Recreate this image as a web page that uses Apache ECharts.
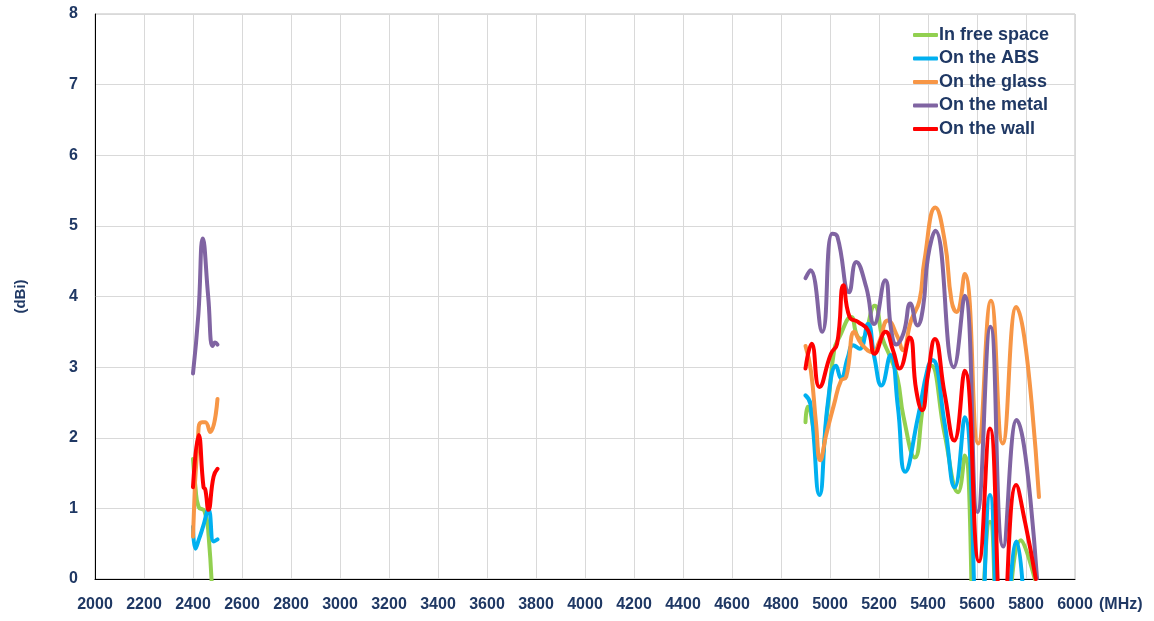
<!DOCTYPE html>
<html>
<head>
    <meta charset="utf-8" />
    <title>Gain vs frequency</title>
    <script src="https://cdn.jsdelivr.net/npm/echarts@6/dist/echarts.min.js"></script>
    <style>
        body { margin: 0; background: #fff; }
        #main { width: 1154px; height: 621px; }
    </style>
</head>
<body>
<div id="main"></div>
<script type="text/javascript">
    // series names (legend order)
    var names = ['In free space', 'On the ABS', 'On the glass', 'On the metal', 'On the wall'];
    var colors = ['#92D050', '#00B0F0', '#F79646', '#8064A2', '#FF0000'];

    // 2.4 GHz band: MHz / dBi
    var freeLowMHz = [2400, 2410, 2423, 2447, 2464, 2480];
    var freeLowDbi = [1.70, 1.30, 1.02, 0.96, 0.60, -0.40];
    var absLowMHz = [2400, 2410, 2423, 2441, 2463, 2485, 2500];
    var absLowDbi = [0.74, 0.43, 0.55, 0.74, 0.98, 0.53, 0.56];
    var glassLowMHz = [2400, 2423, 2437, 2450, 2470, 2500];
    var glassLowDbi = [0.60, 2.15, 2.22, 2.22, 2.08, 2.55];
    var metalLowMHz = [2400, 2422, 2440, 2462, 2480, 2490, 2500];
    var metalLowDbi = [2.91, 3.75, 4.82, 4.00, 3.30, 3.35, 3.32];
    var wallLowMHz = [2400, 2423, 2443, 2450, 2463, 2484, 2500];
    var wallLowDbi = [1.30, 2.04, 1.30, 1.27, 0.98, 1.45, 1.56];

    // 5 GHz band: MHz / dBi
    var freeHighMHz = [4900, 4909, 4940, 4960, 4990, 5017, 5038, 5086, 5110, 5128, 5182, 5215, 5245, 5275, 5300, 5346, 5380, 5414, 5468, 5523, 5550, 5600, 5653, 5700, 5780, 5836];
    var freeHighDbi = [2.22, 2.44, 2.00, 1.70, 2.40, 3.24, 3.42, 3.71, 3.45, 3.40, 3.87, 3.40, 3.15, 2.85, 2.30, 1.72, 2.45, 3.02, 2.05, 1.23, 1.75, -1.50, 0.81, -1.50, 0.55, 0.00];
    var absHighMHz = [4900, 4920, 4957, 4991, 5025, 5045, 5073, 5094, 5121, 5155, 5181, 5210, 5247, 5277, 5307, 5359, 5400, 5418, 5468, 5509, 5550, 5610, 5653, 5700, 5762, 5800];
    var absHighDbi = [2.60, 2.48, 1.19, 2.49, 3.02, 2.84, 3.14, 3.31, 3.26, 3.61, 3.14, 2.74, 3.17, 2.44, 1.52, 2.29, 3.00, 3.10, 2.20, 1.30, 2.29, -1.20, 1.19, -1.50, 0.53, -1.00];
    var glassHighMHz = [4900, 4922, 4943, 4960, 4985, 5017, 5045, 5066, 5100, 5128, 5175, 5200, 5236, 5277, 5297, 5331, 5365, 5385, 5430, 5468, 5496, 5516, 5550, 5605, 5657, 5705, 5760, 5853];
    var glassHighDbi = [3.30, 2.95, 2.20, 1.68, 2.05, 2.48, 2.81, 2.86, 3.50, 3.33, 3.21, 3.35, 3.66, 3.42, 3.24, 3.66, 3.94, 4.50, 5.26, 4.79, 3.94, 3.78, 4.32, 1.92, 3.94, 1.92, 3.85, 1.16];
    var metalHighMHz = [4900, 4920, 4968, 5009, 5030, 5078, 5107, 5148, 5180, 5225, 5250, 5270, 5300, 5328, 5357, 5380, 5400, 5430, 5505, 5550, 5602, 5655, 5707, 5762, 5845];
    var metalHighDbi = [4.26, 4.37, 3.50, 4.89, 4.85, 4.06, 4.49, 4.13, 3.61, 4.23, 3.52, 3.32, 3.48, 3.90, 3.59, 3.85, 4.56, 4.93, 3.00, 4.01, 0.95, 3.57, 0.46, 2.25, 0.01];
    var wallHighMHz = [4900, 4925, 4957, 5004, 5029, 5055, 5080, 5114, 5155, 5182, 5227, 5257, 5284, 5325, 5352, 5376, 5400, 5428, 5468, 5507, 5550, 5608, 5653, 5705, 5760, 5797, 5840];
    var wallHighDbi = [2.98, 3.33, 2.72, 3.19, 3.33, 4.16, 3.71, 3.64, 3.52, 3.19, 3.50, 3.24, 2.98, 3.42, 2.67, 2.39, 2.90, 3.40, 2.62, 1.96, 2.95, 0.25, 2.13, -0.80, 1.33, 0.79, 0.00];

    var xTicks = { min: 2000, max: 6000, step: 200 };
    var yTicks = { min: 0, max: 8, step: 1 };

    function pairs(mhz, dbi) {
        var out = [];
        for (var i = 0; i < mhz.length; i++) out.push([mhz[i], dbi[i]]);
        return out;
    }

    function band(lowM, lowD, highM, highD) {
        // null point breaks the line between the two bands
        return pairs(lowM, lowD).concat([[3700, null]], pairs(highM, highD));
    }

    var seriesData = [
        band(freeLowMHz, freeLowDbi, freeHighMHz, freeHighDbi),
        band(absLowMHz, absLowDbi, absHighMHz, absHighDbi),
        band(glassLowMHz, glassLowDbi, glassHighMHz, glassHighDbi),
        band(metalLowMHz, metalLowDbi, metalHighMHz, metalHighDbi),
        band(wallLowMHz, wallLowDbi, wallHighMHz, wallHighDbi)
    ];

    var textColor = '#1F3864';
    var font = '"Liberation Sans", Arial, sans-serif';

    var series = names.map(function (n, i) {
        return {
            name: n,
            type: 'line',
            data: seriesData[i],
            smooth: 0.5,
            showSymbol: false,
            symbol: 'none',
            connectNulls: false,
            clip: true,
            lineStyle: { width: 4, color: colors[i], cap: 'round', join: 'round' },
            itemStyle: { color: colors[i] },
            z: 2 + i
        };
    });

    var myChart = echarts.init(document.getElementById('main'));
    var option = {
        animation: false,
        backgroundColor: '#fff',
        grid: {
            left: 95, right: 79, top: 14, bottom: 42,
            show: true, borderColor: '#BFBFBF', borderWidth: 1
        },
        legend: {
            orient: 'vertical',
            left: 908, top: 21,
            itemWidth: 25, itemHeight: 4, itemGap: 5.5,
            icon: 'roundRect',
            data: names,
            textStyle: { color: textColor, fontSize: 18, fontWeight: 'bold', fontFamily: font, padding: [0, 0, 0, -4] }
        },
        xAxis: {
            type: 'value',
            min: xTicks.min, max: xTicks.max, interval: xTicks.step,
            name: '(MHz)',
            nameLocation: 'end',
            nameGap: 24,
            nameTextStyle: { color: textColor, fontSize: 16, fontWeight: 'bold', fontFamily: font, verticalAlign: 'top', padding: [18, 0, 0, 0] },
            axisLine: { show: true, lineStyle: { color: '#000', width: 1 } },
            axisTick: { show: false },
            axisLabel: {
                color: textColor, fontSize: 16, fontWeight: 'bold', fontFamily: font, margin: 18,
                formatter: function (v) { return String(v); }
            },
            splitLine: { show: true, lineStyle: { color: '#D9D9D9', width: 1 } }
        },
        yAxis: {
            type: 'value',
            min: yTicks.min, max: yTicks.max, interval: yTicks.step,
            name: '(dBi)',
            nameLocation: 'middle',
            nameGap: 67,
            nameRotate: 90,
            nameTextStyle: { color: textColor, fontSize: 15, fontWeight: 'bold', fontFamily: font },
            axisLine: { show: true, lineStyle: { color: '#000', width: 1 } },
            axisTick: { show: false },
            axisLabel: { color: textColor, fontSize: 16, fontWeight: 'bold', fontFamily: font, margin: 17 },
            splitLine: { show: true, lineStyle: { color: '#D9D9D9', width: 1 } }
        },
        series: series
    };
    myChart.setOption(option);
</script>
</body>
</html>
